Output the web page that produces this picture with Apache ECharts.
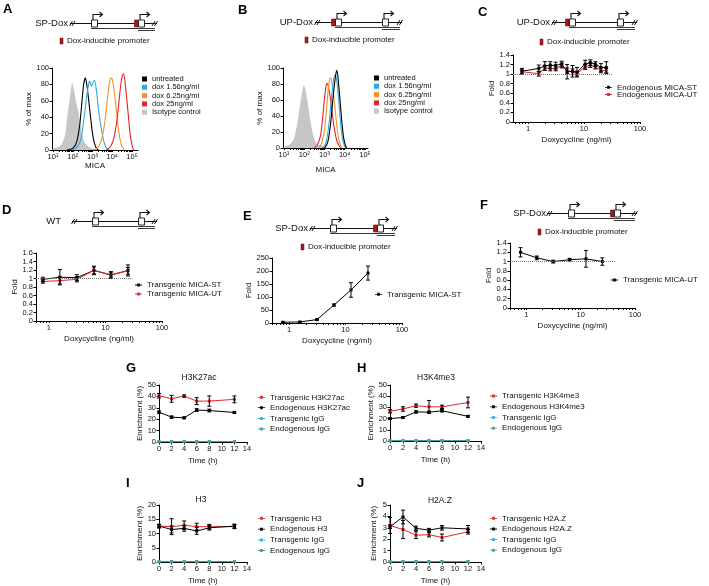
<!DOCTYPE html>
<html>
<head>
<meta charset="utf-8">
<script src="https://cdn.jsdelivr.net/npm/echarts@6/dist/echarts.min.js"></script>
<style>
html, body { margin: 0; padding: 0; background: #fff; }
#chart { width: 709px; height: 586px; }
</style>
</head>
<body>
<div id="chart"></div>
<script>
const FONT = '"Liberation Sans", Arial, Helvetica, sans-serif';

// ---------- A / B : flow histograms (x = log10 MICA, y = % of max) ----------
const histNames = ['untreated', 'dox 1.56ng/ml', 'dox 6.25ng/ml', 'dox 25ng/ml', 'Isotype control'];
const histColors = ['#000000', '#29a9e0', '#f39325', '#e3262b', '#c6c6c6'];
const micaTickValues = [1, 2, 3, 4, 5];
const micaTickLabels = ['10¹', '10²', '10³', '10⁴', '10⁵'];

const aIsotype = [[0.95,0],[1.03,2],[1.2,3],[1.37,5],[1.5,10],[1.63,20],[1.72,40],[1.8,55],[1.9,72],[1.97,82],[2.02,78],[2.08,70],[2.2,55],[2.3,45],[2.4,30],[2.47,20],[2.55,12],[2.64,8],[2.8,4],[2.98,2],[3.2,0]];
const aUntreated = [[1.7,0],[2.0,2],[2.2,10],[2.35,30],[2.45,55],[2.55,80],[2.64,88],[2.72,78],[2.8,62],[2.9,40],[3.0,20],[3.1,8],[3.2,2],[3.3,0]];
const aDox156 = [[1.95,0],[2.2,3],[2.4,12],[2.55,35],[2.7,65],[2.8,80],[2.86,84],[2.95,78],[3.02,82],[3.1,85],[3.2,72],[3.3,50],[3.45,25],[3.6,8],[3.75,1],[3.85,0]];
const aDox625 = [[3.1,0],[3.3,4],[3.45,12],[3.6,30],[3.7,50],[3.8,72],[3.88,85],[3.93,88],[4.0,86],[4.08,75],[4.2,50],[4.3,28],[4.4,12],[4.5,4],[4.6,0]];
const aDox25 = [[3.7,0],[3.9,4],[4.05,12],[4.2,30],[4.32,55],[4.42,78],[4.5,90],[4.56,93],[4.62,88],[4.7,70],[4.8,45],[4.9,20],[5.0,6],[5.07,0]];

const bIsotype = [[0.95,0],[1.05,2],[1.3,5],[1.5,12],[1.65,30],[1.8,55],[1.9,70],[1.97,78],[2.05,74],[2.15,60],[2.3,35],[2.45,15],[2.6,6],[2.8,3],[3.0,2],[3.2,0]];
const bUntreated = [[3.0,0],[3.15,6],[3.3,30],[3.42,62],[3.52,85],[3.6,97],[3.66,90],[3.75,65],[3.85,35],[3.95,12],[4.05,2],[4.1,0]];
const bDox156 = [[2.9,0],[3.05,5],[3.2,25],[3.32,55],[3.42,80],[3.5,91],[3.56,90],[3.64,78],[3.72,55],[3.8,30],[3.9,10],[4.0,2],[4.05,0]];
const bDox625 = [[2.7,0],[2.85,5],[3.0,22],[3.1,48],[3.18,72],[3.25,85],[3.3,88],[3.38,80],[3.48,60],[3.58,35],[3.68,15],[3.78,4],[3.88,0]];
const bDox25 = [[2.5,0],[2.65,4],[2.8,15],[2.9,35],[3.0,62],[3.08,78],[3.12,81],[3.2,76],[3.3,60],[3.4,40],[3.5,22],[3.6,10],[3.7,4],[3.8,0]];

// ---------- C-F : doxycycline titrations ----------
const doseTicks = [0.5,0.6,0.7,0.8,0.9,1,2,3,4,5,6,7,8,9,10,20,30,40,50,60,70,80,90,100];
const doseLabels = [1, 10, 100];

const cDose = [0.78, 1.56, 2, 2.5, 3.125, 4, 5, 6.25, 7.5, 10.5, 13, 16, 20, 25];
const cST = [1.06, 1.12, 1.17, 1.19, 1.18, 1.21, 1.05, 1.06, 1.04, 1.21, 1.24, 1.21, 1.14, 1.14];
const cSTErr = [0.06, 0.07, 0.09, 0.07, 0.07, 0.06, 0.15, 0.12, 0.1, 0.08, 0.06, 0.05, 0.08, 0.12];
const cUT = [1.05, 1.01, 1.13, 1.12, 1.11, 1.18, 1.07, 1.05, 1.01, 1.15, 1.19, 1.15, 1.08, 1.07];
const cUTErr = [0.04, 0.05, 0.05, 0.05, 0.04, 0.05, 0.06, 0.06, 0.05, 0.05, 0.05, 0.04, 0.05, 0.05];

const dDose = [0.78, 1.56, 3.125, 6.25, 12.5, 25];
const dST = [0.98, 1.03, 1.02, 1.19, 1.08, 1.19];
const dSTErr = [0.05, 0.18, 0.07, 0.1, 0.08, 0.13];
const dUT = [0.93, 0.95, 0.98, 1.19, 1.09, 1.18];
const dUTErr = [0.04, 0.08, 0.06, 0.08, 0.06, 0.08];

const eDose = [0.78, 1.56, 3.125, 6.25, 12.5, 25];
const eST = [3, 4, 13, 69, 127, 192];
const eSTErr = [1, 1, 2, 4, 28, 27];

const fDose = [0.78, 1.56, 3.125, 6.25, 12.5, 25];
const fUT = [1.2, 1.08, 1.0, 1.04, 1.06, 1.0];
const fUTErr = [0.1, 0.04, 0.03, 0.03, 0.18, 0.08];

// ---------- G-J : ChIP time courses ----------
const hours = [0, 2, 4, 6, 8, 12];
const gTrans = [40.6, 37.9, 40.3, 35.9, 35.9, 37.4];
const gTransErr = [2, 3, 1, 3, 4.5, 3];
const gEndo = [26.2, 21.8, 21.2, 28, 27.6, 25.9];
const gEndoErr = [1, 1, 0.8, 1.2, 1.2, 0.8];
const gIgGT = [0.4, 0.4, 0.4, 0.4, 0.4, 0.4];
const gIgGE = [0.3, 0.3, 0.3, 0.3, 0.3, 0.3];

const hTrans = [26.5, 28.6, 31.5, 30.5, 30.5, 34.4];
const hTransErr = [1.5, 2, 1.5, 5.7, 1.5, 4.8];
const hEndo = [20, 21, 26, 25.7, 27, 22];
const hEndoErr = [0.8, 0.8, 1, 1, 1, 0.8];
const hIgGT = [0.4, 0.4, 0.4, 0.4, 0.4, 0.4];
const hIgGE = [0.3, 0.3, 0.3, 0.3, 0.3, 0.3];

const iTrans = [12.6, 12.4, 12.9, 12.4, 12.4, 12.4];
const iTransErr = [0.6, 2.8, 1.5, 1.2, 0.8, 0.7];
const iEndo = [12.6, 11.4, 11.8, 10.9, 12.0, 12.6];
const iEndoErr = [0.6, 1.2, 1.0, 1.2, 0.8, 0.7];
const iIgGT = [0.15, 0.15, 0.15, 0.15, 0.15, 0.15];
const iIgGE = [0.1, 0.1, 0.1, 0.1, 0.1, 0.1];

const jTrans = [3.2, 2.85, 2.35, 2.4, 2.15, 2.65];
const jTransErr = [0.7, 0.8, 0.3, 0.2, 0.3, 0.2];
const jEndo = [3.1, 3.95, 2.95, 2.8, 3.0, 2.9];
const jEndoErr = [0.15, 0.6, 0.2, 0.15, 0.2, 0.3];
const jIgGT = [0.04, 0.04, 0.04, 0.04, 0.04, 0.04];
const jIgGE = [0.03, 0.03, 0.03, 0.03, 0.03, 0.03];

const RED = '#e0262b', BLACK = '#000000', CYAN = '#36aee0', TEAL = '#4b9e8f';
// line + dot legend key
const LINE_KEY = 'path://M0,1.1h7v0.8h-7z M2.2,0h2.6v3h-2.6z';

// ---------- helpers ----------
const chart = echarts.init(document.getElementById('chart'), null, { renderer: 'canvas' });

function axisBase(gi, extra) {
  return Object.assign({
    gridIndex: gi,
    nameLocation: 'middle',
    nameTextStyle: { fontSize: 8, color: '#111', fontFamily: FONT },
    axisLine: { show: true, lineStyle: { color: '#000', width: 1 } },
    splitLine: { show: false },
  }, extra);
}
function tickStyle(extra) {
  return Object.assign({ show: true, inside: false, length: 2.5, lineStyle: { color: '#000', width: 1 } }, extra);
}
function labelStyle(extra) {
  return Object.assign({ color: '#111', fontSize: 7.5, fontFamily: FONT, margin: 3 }, extra);
}

const micaMinor = [];
for (let e = 1; e <= 5; e++) for (let k = 1; k <= 9; k++) micaMinor.push(e + Math.log10(k));

function micaAxis(gi, max, gap) {
  return axisBase(gi, {
    type: 'value', min: 0.95, max: max, name: 'MICA', nameGap: gap,
    axisTick: tickStyle({ customValues: micaMinor.filter(v => v <= max), length: 2 }),
    axisLabel: labelStyle({ customValues: micaTickValues, formatter: v => micaTickLabels[micaTickValues.indexOf(Math.round(v))] || '' }),
  });
}
function doseAxis(gi, min) {
  return axisBase(gi, {
    type: 'log', logBase: 10, min: min, max: 100, name: 'Doxycycline (ng/ml)', nameGap: 14,
    axisTick: tickStyle({ customValues: doseTicks.filter(v => v >= min), length: 2 }),
    axisLabel: labelStyle({ customValues: doseLabels, formatter: v => String(Math.round(v)) }),
  });
}
function timeAxis(gi) {
  return axisBase(gi, {
    type: 'value', min: 0, max: 14, interval: 2, name: 'Time (h)', nameGap: 15,
    axisTick: tickStyle(), axisLabel: labelStyle(),
  });
}
function valAxis(gi, max, interval, name, gap) {
  return axisBase(gi, {
    type: 'value', min: 0, max: max, interval: interval, name: name, nameGap: gap,
    axisTick: tickStyle(), axisLabel: labelStyle(),
  });
}

function histSeries(name, gi, pts, color, fill) {
  const s = {
    name, type: 'line', xAxisIndex: gi, yAxisIndex: gi, data: pts,
    showSymbol: false, symbol: 'none', smooth: 0.25,
    lineStyle: { color, width: fill ? 0 : 1.1 }, itemStyle: { color }, z: fill ? 1 : 2,
  };
  if (fill) s.areaStyle = { color, opacity: 1 };
  return s;
}
function lineSeries(name, gi, xs, ys, color, extra) {
  return Object.assign({
    name, type: 'line', xAxisIndex: gi, yAxisIndex: gi,
    data: xs.map((x, i) => [x, ys[i]]),
    symbol: 'rect', symbolSize: 3, showSymbol: true,
    lineStyle: { color, width: 1 }, itemStyle: { color }, z: 3,
  }, extra || {});
}
function errSeries(gi, xs, ys, es, color) {
  return {
    type: 'custom', xAxisIndex: gi, yAxisIndex: gi, z: 4, silent: true,
    data: xs.map((x, i) => [x, ys[i] - es[i], ys[i] + es[i]]),
    encode: { x: 0, y: [1, 2] },
    renderItem: function (params, api) {
      const x = api.value(0);
      const lo = api.coord([x, api.value(1)]);
      const hi = api.coord([x, api.value(2)]);
      const st = { stroke: color, lineWidth: 1 };
      return {
        type: 'group', children: [
          { type: 'line', shape: { x1: lo[0], y1: lo[1], x2: hi[0], y2: hi[1] }, style: st },
          { type: 'line', shape: { x1: lo[0] - 2, y1: lo[1], x2: lo[0] + 2, y2: lo[1] }, style: st },
          { type: 'line', shape: { x1: hi[0] - 2, y1: hi[1], x2: hi[0] + 2, y2: hi[1] }, style: st },
        ]
      };
    }
  };
}
function refLine(xMin, xMax) {
  return {
    silent: true, symbol: 'none', label: { show: false },
    lineStyle: { type: 'dotted', color: '#777', width: 1 },
    data: [[{ coord: [xMin, 1] }, { coord: [xMax, 1] }]]
  };
}
function legendItems(names, left, centers, square) {
  return names.map((n, i) => ({
    data: [n], left: left, top: centers[i] - 4, orient: 'vertical', padding: 0,
    itemWidth: square ? 5 : 7, itemHeight: square ? 5 : 3, icon: square ? 'rect' : LINE_KEY,
    selectedMode: false,
    textStyle: { fontSize: square ? 7.5 : 8, fontFamily: FONT, color: '#111' },
  }));
}

// ---------- gene diagrams (decoration) ----------
function gene(d) {
  const c = [];
  const y = d.y + 0.5;
  const st = { stroke: '#111', lineWidth: 1 };
  c.push({ type: 'text', style: { text: d.label, x: d.lx, y: d.y, align: 'right', verticalAlign: 'middle', font: '9.5px ' + FONT, fill: '#111' } });
  c.push({ type: 'line', shape: { x1: d.x0, y1: y, x2: d.x1, y2: y }, style: st });
  [d.x0 + 1, d.x0 + 3.5, d.x1 - 3.5, d.x1 - 1].forEach(sx => {
    c.push({ type: 'line', shape: { x1: sx - 1.5, y1: y + 2.5, x2: sx + 1.5, y2: y - 2.5 }, style: st });
  });
  c.push({ type: 'line', shape: { x1: d.b1, y1: y + 5, x2: d.x1 - 2, y2: y + 5 }, style: { stroke: '#222', lineWidth: 0.9 } });
  c.push({ type: 'line', shape: { x1: d.b2, y1: y + 7, x2: d.x1 - 2, y2: y + 7 }, style: { stroke: '#222', lineWidth: 0.9 } });
  if (d.red) {
    const rb = d.red === 1 ? d.b1 : d.b2;
    c.push({ type: 'rect', shape: { x: rb - 3.5, y: d.y - 3, width: 3.5, height: 7 }, style: { fill: '#a31d22', stroke: '#6b0d10', lineWidth: 0.6 } });
  }
  [d.b1, d.b2].forEach(b => {
    c.push({ type: 'rect', shape: { x: b + 0.5, y: d.y - 3, width: 6, height: 7 }, style: { fill: '#fff', stroke: '#111', lineWidth: 0.9 } });
    c.push({ type: 'polyline', shape: { points: [[b + 2, d.y - 3], [b + 2, d.y - 8.5], [b + 11, d.y - 8.5]] }, style: { stroke: '#111', lineWidth: 1.1, fill: null } });
    c.push({ type: 'polyline', shape: { points: [[b + 8.5, d.y - 11], [b + 11.5, d.y - 8.5], [b + 8.5, d.y - 6]] }, style: { stroke: '#111', lineWidth: 1.1, fill: null } });
  });
  return c;
}
function promoterKey(x, y) {
  return [
    { type: 'rect', shape: { x: x, y: y - 3, width: 3, height: 6 }, style: { fill: '#a31d22', stroke: '#6b0d10', lineWidth: 0.5 } },
    { type: 'text', style: { text: 'Dox-inducible promoter', x: x + 7, y: y, verticalAlign: 'middle', font: '8px ' + FONT, fill: '#111' } },
  ];
}
function letter(t, x, y) {
  return { type: 'text', style: { text: t, x: x, y: y, font: 'bold 13px ' + FONT, fill: '#000' } };
}
function title(t, x, y) {
  return { type: 'text', style: { text: t, x: x, y: y, align: 'center', verticalAlign: 'middle', font: '8.5px ' + FONT, fill: '#111' } };
}

const graphic = [].concat(
  gene({ label: 'SP-Dox', lx: 68, x0: 70, x1: 157, y: 23, b1: 91, b2: 138, red: 2 }),
  gene({ label: 'UP-Dox', lx: 313, x0: 315, x1: 402, y: 22, b1: 335, b2: 382, red: 1 }),
  gene({ label: 'UP-Dox', lx: 550, x0: 552, x1: 637, y: 22, b1: 569, b2: 617, red: 1 }),
  gene({ label: 'WT', lx: 61, x0: 72, x1: 157, y: 221, b1: 92, b2: 138, red: 0 }),
  gene({ label: 'SP-Dox', lx: 308, x0: 310, x1: 397, y: 228, b1: 330, b2: 377, red: 2 }),
  gene({ label: 'SP-Dox', lx: 546, x0: 547, x1: 637, y: 213, b1: 568, b2: 614, red: 2 }),
  promoterKey(60, 41), promoterKey(305, 40), promoterKey(540, 42),
  promoterKey(301, 247), promoterKey(538, 232),
  [letter('A', 3, 3), letter('B', 238, 4), letter('C', 478, 6),
   letter('D', 2, 204), letter('E', 243, 210), letter('F', 480, 199),
   letter('G', 126, 362), letter('H', 357, 362), letter('I', 126, 477), letter('J', 357, 477),
   title('H3K27ac', 199, 378), title('H3K4me3', 436, 378), title('H3', 201, 500), title('H2A.Z', 440, 501)]
);

// ---------- option ----------
const option = {
  animation: false,
  textStyle: { fontFamily: FONT },
  grid: [
    { left: 52, top: 68, width: 86, height: 82 },   // A
    { left: 283, top: 68, width: 85, height: 80 },  // B
    { left: 513, top: 55, width: 127, height: 67 }, // C
    { left: 36, top: 253, width: 126, height: 68 }, // D
    { left: 272, top: 258, width: 130, height: 65 },// E
    { left: 510, top: 243, width: 125, height: 65 },// F
    { left: 159, top: 385, width: 88, height: 57 }, // G
    { left: 390, top: 385, width: 91, height: 56 }, // H
    { left: 159, top: 505, width: 88, height: 57 }, // I
    { left: 390, top: 505, width: 91, height: 57 }, // J
  ],
  xAxis: [
    micaAxis(0, 5.3, 10), micaAxis(1, 5.15, 18),
    doseAxis(2, 0.54), doseAxis(3, 0.59), doseAxis(4, 0.5), doseAxis(5, 0.5),
    timeAxis(6), timeAxis(7), timeAxis(8), timeAxis(9),
  ],
  yAxis: [
    valAxis(0, 100, 20, '% of max', 17), valAxis(1, 100, 20, '% of max', 9),
    valAxis(2, 1.4, 0.2, 'Fold', 17), valAxis(3, 1.6, 0.2, 'Fold', 17),
    valAxis(4, 250, 50, 'Fold', 17), valAxis(5, 1.4, 0.2, 'Fold', 17),
    valAxis(6, 50, 10, 'Enrichment (%)', 12), valAxis(7, 50, 10, 'Enrichment (%)', 12),
    valAxis(8, 20, 5, 'Enrichment (%)', 12), valAxis(9, 5, 1, 'Enrichment (%)', 12),
  ],
  legend: [].concat(
    legendItems(histNames, 142, [79, 87.3, 95.6, 103.9, 112.2], true),
    legendItems(histNames.map(n => n + ' '), 374, [78, 86.3, 94.6, 102.9, 111.2], true),
    legendItems(['Endogenous MICA-ST', 'Endogenous MICA-UT'], 605, [87.3, 94.5]),
    legendItems(['Transgenic MICA-ST', 'Transgenic MICA-UT'], 135, [285, 294]),
    legendItems(['Transgenic MICA-ST'], 375, [294.3]),
    legendItems(['Transgenic MICA-UT '], 611, [280]),
    legendItems(['Transgenic H3K27ac', 'Endogenous H3K27ac', 'Transgenic IgG', 'Endogenous IgG'], 258, [397.3, 407.7, 418.5, 429]),
    legendItems(['Transgenic H3K4me3', 'Endogenous H3K4me3', 'Transgenic IgG', 'Endogenous IgG'], 490, [396, 406.8, 417.6, 428.2]),
    legendItems(['Transgenic H3', 'Endogenous H3', 'Transgenic IgG', 'Endogenous IgG'], 258, [518.3, 529.2, 540, 550.5]),
    legendItems(['Transgenic H2A.Z', 'Endogenous H2A.Z', 'Transgenic IgG', 'Endogenous IgG'], 490, [518.3, 529, 539.5, 550.2])
  ),
  series: [
    // A
    histSeries(histNames[4], 0, aIsotype, histColors[4], true),
    histSeries(histNames[0], 0, aUntreated, histColors[0]),
    histSeries(histNames[1], 0, aDox156, histColors[1]),
    histSeries(histNames[2], 0, aDox625, histColors[2]),
    histSeries(histNames[3], 0, aDox25, histColors[3]),
    // B
    histSeries(histNames[4] + ' ', 1, bIsotype, histColors[4], true),
    histSeries(histNames[3] + ' ', 1, bDox25, histColors[3]),
    histSeries(histNames[2] + ' ', 1, bDox625, histColors[2]),
    histSeries(histNames[1] + ' ', 1, bDox156, histColors[1]),
    histSeries(histNames[0] + ' ', 1, bUntreated, histColors[0]),
    // C
    lineSeries('Endogenous MICA-UT', 2, cDose, cUT, RED),
    errSeries(2, cDose, cUT, cUTErr, BLACK),
    lineSeries('Endogenous MICA-ST', 2, cDose, cST, BLACK, { markLine: refLine(0.54, 33) }),
    errSeries(2, cDose, cST, cSTErr, BLACK),
    // D
    lineSeries('Transgenic MICA-ST', 3, dDose, dST, BLACK, { markLine: refLine(0.59, 30) }),
    errSeries(3, dDose, dST, dSTErr, BLACK),
    lineSeries('Transgenic MICA-UT', 3, dDose, dUT, RED),
    errSeries(3, dDose, dUT, dUTErr, BLACK),
    // E
    lineSeries('Transgenic MICA-ST', 4, eDose, eST, BLACK),
    errSeries(4, eDose, eST, eSTErr, BLACK),
    // F
    lineSeries('Transgenic MICA-UT ', 5, fDose, fUT, BLACK, { markLine: refLine(0.5, 43) }),
    errSeries(5, fDose, fUT, fUTErr, BLACK),
    // G
    lineSeries('Transgenic IgG', 6, hours, gIgGT, CYAN),
    lineSeries('Endogenous IgG', 6, hours, gIgGE, TEAL),
    lineSeries('Transgenic H3K27ac', 6, hours, gTrans, RED),
    errSeries(6, hours, gTrans, gTransErr, BLACK),
    lineSeries('Endogenous H3K27ac', 6, hours, gEndo, BLACK),
    errSeries(6, hours, gEndo, gEndoErr, BLACK),
    // H
    lineSeries('Transgenic IgG', 7, hours, hIgGT, CYAN),
    lineSeries('Endogenous IgG', 7, hours, hIgGE, TEAL),
    lineSeries('Transgenic H3K4me3', 7, hours, hTrans, RED),
    errSeries(7, hours, hTrans, hTransErr, BLACK),
    lineSeries('Endogenous H3K4me3', 7, hours, hEndo, BLACK),
    errSeries(7, hours, hEndo, hEndoErr, BLACK),
    // I
    lineSeries('Transgenic IgG', 8, hours, iIgGT, CYAN),
    lineSeries('Endogenous IgG', 8, hours, iIgGE, TEAL),
    lineSeries('Transgenic H3', 8, hours, iTrans, RED),
    errSeries(8, hours, iTrans, iTransErr, BLACK),
    lineSeries('Endogenous H3', 8, hours, iEndo, BLACK),
    errSeries(8, hours, iEndo, iEndoErr, BLACK),
    // J
    lineSeries('Transgenic IgG', 9, hours, jIgGT, CYAN),
    lineSeries('Endogenous IgG', 9, hours, jIgGE, TEAL),
    lineSeries('Transgenic H2A.Z', 9, hours, jTrans, RED),
    errSeries(9, hours, jTrans, jTransErr, BLACK),
    lineSeries('Endogenous H2A.Z', 9, hours, jEndo, BLACK),
    errSeries(9, hours, jEndo, jEndoErr, BLACK),
  ],
  graphic: graphic,
};

chart.setOption(option);
</script>
</body>
</html>
